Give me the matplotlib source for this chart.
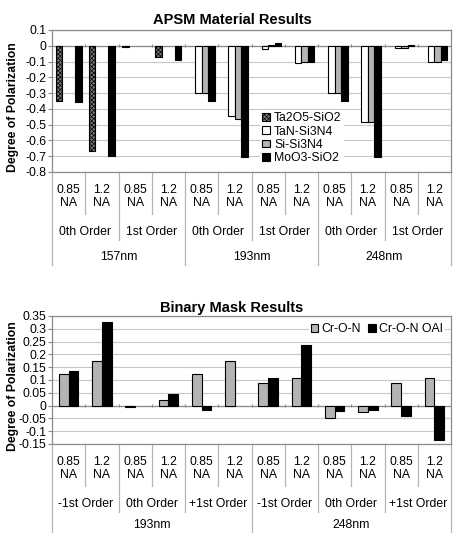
import matplotlib
matplotlib.use("Agg")
import matplotlib.pyplot as plt
import numpy as np
from matplotlib.transforms import blended_transform_factory

nan = np.nan

# APSM chart data (12 categories: wavelength / order / NA)
apsm_na = ["0.85\nNA", "1.2\nNA"] * 6
apsm_orders = ["0th Order", "1st Order"] * 3
apsm_waves = ["157nm", "193nm", "248nm"]
apsm_series = ["Ta2O5-SiO2", "TaN-Si3N4", "Si-Si3N4", "MoO3-SiO2"]
ta2o5 = [-0.35, -0.67, -0.006, -0.074, nan, nan, nan, nan, nan, nan, nan, nan]
tan_si3n4 = [nan, nan, nan, nan, -0.30, -0.445, -0.018, -0.107, -0.30, -0.483, -0.015, -0.10]
si_si3n4 = [nan, nan, nan, nan, -0.30, -0.467, 0.004, -0.10, -0.30, -0.485, -0.012, -0.10]
moo3 = [-0.356, -0.70, nan, -0.091, -0.351, -0.705, 0.016, -0.10, -0.35, -0.705, 0.006, -0.092]

# Binary mask chart data
bin_na = ["0.85\nNA", "1.2\nNA"] * 6
bin_orders = ["-1st Order", "0th Order", "+1st Order"] * 2
bin_waves = ["193nm", "248nm"]
bin_series = ["Cr-O-N", "Cr-O-N OAI"]
cron = [0.122, 0.176, -0.005, 0.02, 0.122, 0.176, 0.087, 0.106, -0.048, -0.026, 0.087, 0.106]
cron_oai = [0.137, 0.327, nan, 0.047, -0.018, nan, 0.107, 0.236, -0.022, -0.016, -0.041, -0.134]

W, H = 453, 533
plt.rcParams["font.family"] = ["Liberation Sans", "DejaVu Sans"]
plt.rcParams["axes.unicode_minus"] = False
plt.rcParams["hatch.linewidth"] = 0.5

fig = plt.figure(figsize=(W / 100, H / 100), dpi=100, facecolor="white")
FS = 8.8


def fy(y):
    return 1 - y / H


def style_axes(ax, lo, hi, step):
    ticks = np.round(np.arange(lo, hi + step / 2, step), 3)
    ax.set_ylim(lo, hi)
    ax.set_yticks(ticks)
    ax.set_yticklabels([("%g" % t if abs(t) > 1e-9 else "0") for t in ticks], fontsize=FS)
    ax.set_xticks([])
    ax.set_xlim(-0.5, 11.5)
    ax.yaxis.grid(True, color="#c8c8c8", lw=0.8)
    ax.set_axisbelow(True)
    for s in ax.spines.values():
        s.set_color("#8a8a8a")
        s.set_linewidth(0.9)
    ax.tick_params(axis="y", length=3, width=0.8, color="#8a8a8a", pad=1)
    ax.axhline(0, color="#8a8a8a", lw=0.9, zorder=1)
    tick_h = (hi - lo) * 0.012
    ax.vlines(np.arange(0.5, 11.5, 1), -tick_h, tick_h, color="#8a8a8a", lw=0.8, zorder=1)


def category_labels(ax, bottom, na, orders, order_len, waves, wave_len, wave_off=85):
    trans = blended_transform_factory(ax.transData, fig.transFigure)
    for i, lab in enumerate(na):
        ax.text(i, fy(bottom + 24.5), lab, transform=trans, ha="center", va="center",
                fontsize=FS, linespacing=1.15)
    for g, lab in enumerate(orders):
        ax.text(g * order_len + (order_len - 1) / 2, fy(bottom + 60), lab, transform=trans,
                ha="center", va="center", fontsize=FS)
    for g, lab in enumerate(waves):
        ax.text(g * wave_len + (wave_len - 1) / 2, fy(bottom + wave_off), lab, transform=trans,
                ha="center", va="center", fontsize=FS)
    for b in range(len(na) + 1):
        if b % wave_len == 0:
            depth = 93
        elif b % order_len == 0:
            depth = 68
        else:
            depth = 42
        ax.plot([b - 0.5, b - 0.5], [fy(bottom), fy(bottom + depth)], transform=trans,
                color="#b4b4b4", lw=0.9, clip_on=False)
    ax.set_xlim(-0.5, 11.5)


# ---- APSM Material Results ----
ax1 = fig.add_axes([52 / W, fy(172), 399 / W, 142 / H])
x = np.arange(12)
bw = 0.195
styles = [
    dict(color="#7a7a7a", hatch="xxxxxxxx"),
    dict(color="white"),
    dict(color="#b4b4b4"),
    dict(color="black"),
]
for k, (vals, name, st) in enumerate(zip([ta2o5, tan_si3n4, si_si3n4, moo3], apsm_series, styles)):
    ax1.bar(x + (k - 1.5) * bw, vals, bw, label=name, edgecolor="black", linewidth=0.8,
            zorder=3, **st)
style_axes(ax1, -0.8, 0.1, 0.1)
category_labels(ax1, 172, apsm_na, apsm_orders, 2, apsm_waves, 4)
ax1.legend(loc="upper left", bbox_to_anchor=(260 / W, fy(110)), bbox_transform=fig.transFigure,
           fontsize=FS, frameon=True, facecolor="white", edgecolor="none", framealpha=1,
           handlelength=0.6, handleheight=0.6, handletextpad=0.35, labelspacing=0.1,
           borderpad=0.2, borderaxespad=0)
fig.text(232 / W, fy(20), "APSM Material Results", ha="center", va="center",
         fontsize=10.5, fontweight="bold")
fig.text(13 / W, fy(107), "Degree of Polarization", rotation=90, ha="center", va="center",
         fontsize=8.8, fontweight="bold")

# ---- Binary Mask Results ----
ax2 = fig.add_axes([52 / W, fy(444), 399 / W, 128 / H])
bw2 = 0.29
ax2.bar(x - bw2 / 2, cron, bw2, color="#b4b4b4", edgecolor="black", linewidth=0.8,
        label=bin_series[0], zorder=3)
ax2.bar(x + bw2 / 2, cron_oai, bw2, color="black", edgecolor="black", linewidth=0.8,
        label=bin_series[1], zorder=3)
style_axes(ax2, -0.15, 0.35, 0.05)
category_labels(ax2, 444, bin_na, bin_orders, 2, bin_waves, 6, wave_off=81)
ax2.legend(loc="center", bbox_to_anchor=(377 / W, fy(329.5)), bbox_transform=fig.transFigure,
           ncol=2, fontsize=FS, frameon=True, facecolor="white", edgecolor="none", framealpha=1,
           handlelength=0.6, handleheight=0.6, handletextpad=0.3, columnspacing=0.6,
           borderpad=0.15, borderaxespad=0)
fig.text(232 / W, fy(308), "Binary Mask Results", ha="center", va="center",
         fontsize=10.5, fontweight="bold")
fig.text(13 / W, fy(386), "Degree of Polarization", rotation=90, ha="center", va="center",
         fontsize=8.8, fontweight="bold")

fig.savefig("out.png", dpi=100, facecolor="white")
